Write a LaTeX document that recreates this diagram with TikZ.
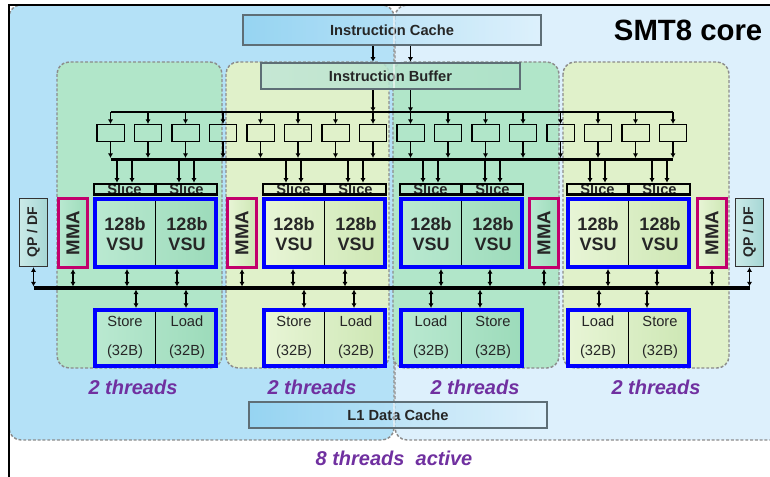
\documentclass[tikz,border=0pt]{standalone}
\usepackage{fontspec}
\setmainfont{Liberation Sans}
\usetikzlibrary{arrows.meta,fit}

\definecolor{halfL}{HTML}{B4E1F7}
\definecolor{halfR}{HTML}{DDF0FC}
\definecolor{quadG}{HTML}{B1E6C9}
\definecolor{quadY}{HTML}{E0F1CA}
\definecolor{unitGl}{HTML}{BAE9D1}
\definecolor{unitGd}{HTML}{9CDBBA}
\definecolor{unitYl}{HTML}{E8F5D6}
\definecolor{unitYd}{HTML}{CDE7B4}
\definecolor{dashgrey}{HTML}{8C8C8C}
\definecolor{cacheedge}{HTML}{5E6E76}
\definecolor{vsublue}{HTML}{0000FF}
\definecolor{mmared}{HTML}{C2006C}
\definecolor{threadpurple}{HTML}{7030A0}
\definecolor{qpfill}{HTML}{CBEAE8}
\definecolor{qpfilld}{HTML}{A6D7D5}
\definecolor{icL}{HTML}{8ACFF0}
\definecolor{icR}{HTML}{DDF1FC}
\definecolor{ibL}{HTML}{C2E6D6}
\definecolor{ibR}{HTML}{ADE2C8}

\tikzset{
  region/.style={draw=dashgrey, line width=1.1pt, dash pattern=on 2.2pt off 1.4pt, rounded corners=9pt},
  cachebox/.style={draw=cacheedge, line width=1.9pt, inner sep=0pt},
  smallbox/.style={draw=black, line width=1.1pt, minimum width=20.6pt, minimum height=12.4pt, inner sep=0pt},
  slicerow/.style={draw=black, line width=1.6pt, inner sep=0pt},
  vsubox/.style={draw=vsublue, line width=3pt, inner sep=0pt},
  mmabox/.style={draw=mmared, line width=2.3pt, inner sep=0pt},
  qpbox/.style={draw=black!80, line width=1.1pt, inner sep=0pt, left color=qpfill, right color=qpfilld},
  divider/.style={draw=black, line width=1pt},
  wire/.style={draw=black, line width=1.1pt},
  busline/.style={draw=black, line width=2.6pt},
  cachetext/.style={font=\fontsize{11}{13}\selectfont\bfseries, text=black!85},
  vsutext/.style={font=\fontsize{13.5}{15}\selectfont\bfseries, align=center, text=black!85},
  storetext/.style={font=\fontsize{11}{21.5}\selectfont, align=center, text=black!85},
  slicetext/.style={font=\fontsize{11}{12}\selectfont\bfseries, anchor=base, inner sep=0pt, text=black!85},
  threadtext/.style={font=\fontsize{15}{18}\selectfont\bfseries\itshape, text=threadpurple},
  mmatext/.style={font=\fontsize{14}{16}\selectfont\bfseries, rotate=90, text=black!85},
  qptext/.style={font=\fontsize{10.5}{12}\selectfont\bfseries, rotate=90, text=black!85},
}

% #1 id, #2 left x of the block, #3/#4 fill gradient
\newcommand\vecblock[4]{%
  \node[vsubox, fit={(#2+2,199)(#2+123,267)}, left color=#3, right color=#4] (v#1) {};
  \draw[divider] ([yshift=-3pt]v#1.north) -- ([yshift=3pt]v#1.south);
  \node[vsutext] (v#1a) at (#2+32,234.5) {128b\\VSU};
  \node[vsutext] (v#1b) at (#2+94,234.5) {128b\\VSU};
  \begin{scope}
    \clip (#2+1,183.8) rectangle (#2+124,194.5);
    \node[slicetext] (sl#1a) at (#2+31.5,194.3) {Slice};
    \node[slicetext] (sl#1b) at (#2+93.5,194.3) {Slice};
  \end{scope}
  \node[slicerow, fit={(#2+1,183.8)(#2+124,194.5)}] (sl#1) {};
  \draw[slicerow] (sl#1.north) -- (sl#1.south);
  \foreach \ax in {24,39,86,101}
    \draw[wire,->] (#2+\ax,0 |- issuebus) -- (#2+\ax,0 |- sl#1.north);
}
% #1 id, #2 left x, #3/#4 fill gradient, #5/#6 unit names
\newcommand\lsblock[6]{%
  \node[vsubox, fit={(#2+2,310)(#2+123,365.5)}, left color=#3, right color=#4] (ls#1) {};
  \draw[divider] ([yshift=-3pt]ls#1.north) -- ([yshift=3pt]ls#1.south);
  \node[storetext] (ls#1a) at (#2+32,337.5) {#5\\(32B)};
  \node[storetext] (ls#1b) at (#2+94,337.5) {#6\\(32B)};
}
% #1 id, #2 left x, #3/#4 fill gradient
\newcommand\mmablock[4]{%
  \node[mmabox, fit={(#2+1.5,198.5)(#2+30.5,267.5)}, left color=#3, right color=#4] (m#1) {};
  \node[mmatext] (m#1t) at (m#1.center) {MMA};
}

\begin{document}
\begin{tikzpicture}[x=0.75pt,y=-0.75pt,>={Latex[length=3.4pt,width=3.8pt]}]
\useasboundingbox (0,0) rectangle (770,477);

% two halves of the core
\path[region, fill=halfL] (9,5) rectangle (394,440);
\path[region, fill=halfR] (395,5) rectangle (800,440);

% four execution slices
\path[region, fill=quadG] (57,62) rectangle (222,368);
\path[region, fill=quadY] (226,62) rectangle (389,368);
\path[region, fill=quadG] (393,62) rectangle (559,368);
\path[region, fill=quadY] (563,62) rectangle (729,368);

% outer frame
\draw[line width=0.8pt] (9,480) -- (9,5) -- (775,5);

% caches and buffer
\node[cachebox, fit={(243,15)(541,45)}, left color=icL, right color=icR, fill opacity=0.7] (ic) {};
\node[cachetext] (ict) at (ic.center) {Instruction Cache};
\node[cachebox, fit={(261,63)(520,89)}, left color=ibL, right color=ibR, fill opacity=0.85] (ib) {};
\node[cachetext] (ibt) at (ib.center) {Instruction Buffer};
\node[cachebox, fit={(249,402)(547,428)}, left color=icL, right color=icR, fill opacity=0.7] (l1) {};
\node[cachetext] (l1t) at (l1.center) {L1 Data Cache};
\draw[white, opacity=0.55, line width=0.8pt] (394,16) -- (394,44) (394,64) -- (394,88) (394,403) -- (394,427);

\node[anchor=east, font=\fontsize{22}{26}\selectfont\bfseries] (title) at (767,30) {SMT8 core};

% dispatch boxes
\foreach \i in {1,...,16}
  \node[smallbox] (d\i) at ({110.5+37.5*(\i-1)},133) {};

\coordinate (feed) at (0,112);
\coordinate (issuebus) at (0,159.5);
\coordinate (issuetop) at (0,158);

\draw[wire,->] (ic.south -| d8) -- (ib.north -| d8);
\draw[wire,->] (ic.south -| d9) -- (ib.north -| d9);
\draw[wire,->] (ib.south -| d8) -- (d8 |- feed);
\draw[wire,->] (ib.south -| d9) -- (d9 |- feed);

\draw[wire] (d1 |- feed) -- (d16 |- feed);
\foreach \i in {1,...,16}
  \draw[wire,->] (d\i |- feed) -- (d\i.north);

\draw[busline] (d1 |- issuebus) -- (d16 |- issuebus);
\foreach \i in {1,...,16}
  \draw[wire,->] (d\i.south) -- (d\i |- issuetop);

% vector units
\vecblock{1}{93}{unitGl}{unitGd}
\vecblock{2}{262}{unitYl}{unitYd}
\vecblock{3}{399}{unitGl}{unitGd}
\vecblock{4}{566}{unitYl}{unitYd}

\mmablock{1}{57}{unitGl}{unitGd}
\mmablock{2}{226}{unitYl}{unitYd}
\mmablock{3}{528}{unitGl}{unitGd}
\mmablock{4}{696}{unitYl}{unitYd}

\node[qpbox, fit={(19.5,198.5)(47.5,266.5)}] (qpL) {};
\node[qptext] (qpLt) at (qpL.center) {QP / DF};
\node[qpbox, fit={(735.5,198.5)(763.5,266.5)}] (qpR) {};
\node[qptext] (qpRt) at (qpR.center) {QP / DF};

% load/store units
\lsblock{1}{93}{unitGl}{unitGd}{Store}{Load}
\lsblock{2}{262}{unitYl}{unitYd}{Store}{Load}
\lsblock{3}{399}{unitGl}{unitGd}{Load}{Store}
\lsblock{4}{566}{unitYl}{unitYd}{Load}{Store}

% result bus
\coordinate (busmid) at (0,288);
\coordinate (bustop) at (0,286.5);
\coordinate (busbot) at (0,289.5);
\draw[busline] (qpL |- busmid) -- (qpR |- busmid);
\foreach \x/\nm in {33.5/qpL, 73/m1, 127/v1, 177/v1, 242/m2, 293/v2, 345/v2, 441/v3, 490/v3, 544/m3, 608/v4, 657/v4, 712/m4, 749.5/qpR}
  \draw[wire,<->] (\x,0 |- \nm.south) -- (\x,0 |- bustop);
\foreach \x/\nm in {136/ls1, 186/ls1, 304/ls2, 354/ls2, 431/ls3, 480/ls3, 599/ls4, 647/ls4}
  \draw[wire,<->] (\x,0 |- busbot) -- (\x,0 |- \nm.north);

% thread labels
\node[threadtext] (th1) at (133,387) {2 threads};
\node[threadtext] (th2) at (312,387) {2 threads};
\node[threadtext] (th3) at (475,387) {2 threads};
\node[threadtext] (th4) at (656,387) {2 threads};
\node[threadtext] (thall) at (394,458) {8 threads\ \ active};

\end{tikzpicture}
\end{document}
